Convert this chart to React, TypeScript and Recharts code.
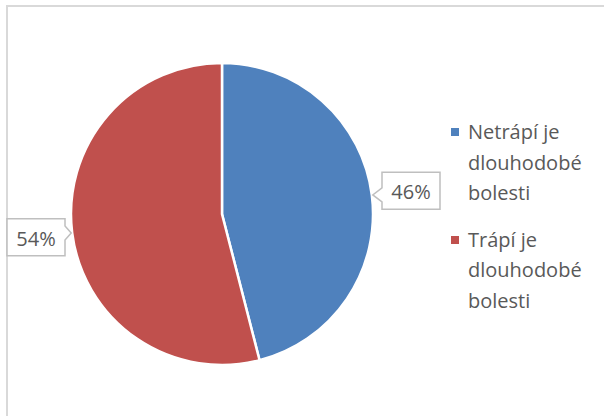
import React from 'react';
import { PieChart, Pie, Cell, Legend } from 'recharts';

const names = ['Netrápí je dlouhodobé bolesti', 'Trápí je dlouhodobé bolesti'];
const shares = [46, 54];
const COLORS = ['#4F81BD', '#C0504D'];

const data = names.map((name, i) => ({ name, value: shares[i] }));

const FONT = '"Open Sans", "Noto Sans", sans-serif';
const RAD = Math.PI / 180;

const CalloutLabel = (props: any) => {
  const { cx, cy, midAngle, outerRadius, value } = props;
  const cos = Math.cos(midAngle * RAD);
  const sin = Math.sin(midAngle * RAD);
  const w = 58;
  const h = 37;
  const right = cos >= 0;
  const near = right ? cx + outerRadius + 9 : cx - outerRadius - 6;
  const centerY = cy - sin * 185;
  const left = right ? near : near - w;
  const top = centerY - h / 2;
  const tipX = cx + (outerRadius + 1) * cos;
  const tipY = cy - (outerRadius + 1) * sin;
  const b1 = Math.max(top + 1, tipY - 7);
  const b2 = Math.min(top + h - 1, tipY + 7);
  let d: string;
  if (right) {
    d = `M${left},${top} H${left + w} V${top + h} H${left} V${b2} L${tipX},${tipY} L${left},${b1} Z`;
  } else {
    d = `M${left},${top} H${near} V${b1} L${tipX},${tipY} L${near},${b2} V${top + h} H${left} Z`;
  }
  return (
    <g>
      <path d={d} fill="#FFFFFF" stroke="#BFBFBF" strokeWidth={1.5} />
      <text
        x={left + w / 2}
        y={centerY + 1}
        textAnchor="middle"
        dominantBaseline="central"
        fill="#595959"
        fontSize={20}
        fontFamily={FONT}
      >
        {`${value}%`}
      </text>
    </g>
  );
};

const LegendContent = (props: any) => {
  const { payload } = props;
  return (
    <div style={{ fontFamily: FONT, fontSize: 20, color: '#595959', lineHeight: '30.5px' }}>
      {(payload || []).map((entry: any, i: number) => (
        <div key={`leg-${i}`} style={{ display: 'flex', alignItems: 'flex-start', marginBottom: 16 }}>
          <span
            style={{
              display: 'inline-block',
              width: 8,
              height: 8,
              background: entry.color,
              marginTop: 11,
              marginRight: 9,
              flexShrink: 0,
            }}
          />
          <span style={{ width: 125 }}>{entry.value}</span>
        </div>
      ))}
    </div>
  );
};

const App: React.FC = () => {
  return (
    <div style={{ position: 'fixed', left: 0, top: 0, width: 604, height: 416, background: '#FFFFFF', overflow: 'hidden' }}>
      <div
        style={{
          position: 'absolute',
          left: 6,
          top: 5,
          width: 640,
          height: 460,
          border: '2px solid #D9D9D9',
          boxSizing: 'border-box',
        }}
      />
      <div style={{ position: 'absolute', left: 0, top: 0 }}>
        <PieChart width={604} height={416} margin={{ top: 0, right: 0, bottom: 0, left: 0 }}>
          <Pie
            data={data}
            dataKey="value"
            nameKey="name"
            cx={222}
            cy={214}
            outerRadius={151}
            startAngle={90}
            endAngle={-270}
            stroke="#FFFFFF"
            strokeWidth={2.5}
            label={CalloutLabel}
            labelLine={false}
            isAnimationActive={false}
          >
            {data.map((entry, index) => (
              <Cell key={`cell-${index}`} fill={COLORS[index % COLORS.length]} />
            ))}
          </Pie>
          <Legend
            layout="vertical"
            align="right"
            verticalAlign="middle"
            content={LegendContent}
            wrapperStyle={{ position: 'absolute', left: 451, top: 117, right: 'auto', bottom: 'auto', width: 150 }}
          />
        </PieChart>
      </div>
    </div>
  );
};

export default App;
